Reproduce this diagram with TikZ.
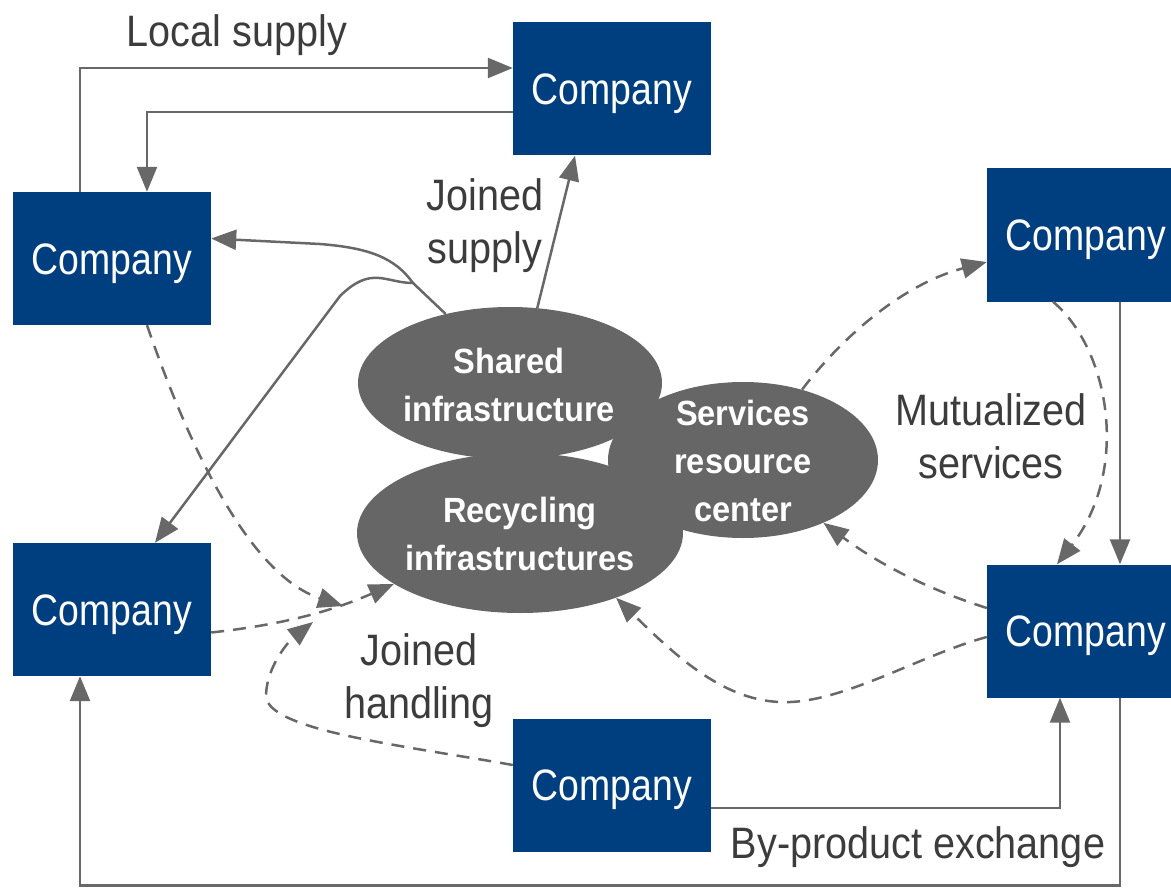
\documentclass[tikz,border=0pt]{standalone}
\usepackage{fontspec}
\setmainfont{Liberation Sans}[FakeStretch=0.9]
\newfontfamily\boxfont{Liberation Sans}[FakeStretch=0.85]
\newfontfamily\ellfont{Liberation Sans}[FakeStretch=0.93]
\usetikzlibrary{arrows.meta,shapes.geometric,calc}
\definecolor{cblue}{HTML}{003F7F}
\definecolor{cgray}{HTML}{666666}
\definecolor{lgray}{HTML}{686868}
\definecolor{tgray}{HTML}{3C3C3C}
\tikzset{
  company/.style={rectangle, fill=cblue, minimum width=198pt, minimum height=133pt, inner sep=0pt, text=white, text height=31pt, text depth=0pt, font=\boxfont\fontsize{44}{50}\selectfont},
  infra/.style={ellipse, fill=cgray, inner sep=0pt},
  itext/.style={text=white, align=center, inner sep=0pt, font=\ellfont\bfseries\fontsize{35}{48}\selectfont},
  conn/.style={draw=lgray, line width=2.5pt, -{Triangle[length=25pt,width=20pt]}},
  dconn/.style={conn, dash pattern=on 13pt off 9pt},
  lbl/.style={text=tgray, align=center, inner sep=0pt, font=\fontsize{44}{53}\selectfont},
}
\begin{document}
\begin{tikzpicture}[x=1pt,y=-1pt]
\useasboundingbox (0,0) rectangle (1171,888);
\clip (0,0) rectangle (1171,888);
% companies
\node[company] (top) at (612,89) {Company};
\node[company] (lu) at (112,258.5) {Company};
\node[company] (ll) at (112,609.5) {Company};
\node[company] (ru) at (1086,235) {Company};
\node[company] (rl) at (1086,631) {Company};
\node[company] (bot) at (612,785) {Company};
% infrastructure ellipses
\node[infra, minimum width=304pt, minimum height=152pt] (shared) at (510,383) {};
\node[infra, minimum width=326pt, minimum height=160pt] (recyc) at (520,533) {};
\node[infra, minimum width=270pt, minimum height=156pt] (serv) at (743,460) {};
\fill[white] (583,456) -- (607,448) -- (607,464) -- cycle;
\node[itext] (sharedtxt) at (509,385) {Shared\\infrastructure};
\node[itext] (recyctxt) at (520,534) {Recycling\\infrastructures};
\node[itext] (servtxt) at (743,461) {Services\\resource\\center};
% labels
\node[lbl, anchor=base] (lsup) at (237,47) {Local supply};
\node[lbl] (jsup) at (485,226) {Joined\\supply};
\node[lbl] (msrv) at (991,436) {Mutualized\\services};
\node[lbl] (jhan) at (419,681) {Joined\\handling};
\node[lbl, anchor=base] (bpx) at (918,858) {By-product exchange};
% helper coordinates
\coordinate (fork) at (413,283);
\coordinate (hjoin) at (343,606);
\coordinate (hend) at (313,622);
% solid connectors
\draw[conn] ([xshift=-32pt]lu.north) |- ([yshift=21pt]top.west);
\draw[conn] ([yshift=-23pt]top.west) -| ([xshift=35pt]lu.north);
\draw[conn] (shared.70) -- ([xshift=-37pt]top.south);
\draw[conn] (shared.133) -- (fork) .. controls (395,258) and (370,248) .. (320,244) -- ([yshift=20pt]lu.east);
\draw[conn] (fork) .. controls (385,283) and (372,265) .. (340,296) -- ([xshift=43pt]ll.north);
\draw[conn] ([xshift=34pt]ru.south) -- ([xshift=34pt]rl.north);
\draw[conn] ([yshift=-23pt]bot.east) -| ([xshift=-26pt]rl.south);
\draw[conn] ([xshift=34pt]rl.south) -- ++(0,188) -| ([xshift=-32pt]ll.south);
% dashed connectors
\draw[dconn] ([xshift=35pt]lu.south) .. controls (190,450) and (250,575) .. (hjoin);
\draw[dconn] ([yshift=-23pt]ll.east) .. controls (280,625) and (330,612) .. (recyc.202);
\draw[dconn] ([yshift=20pt]bot.west) .. controls (400,745) and (265,730) .. (266,695) .. controls (267,665) and (290,640) .. (hend);
\draw[dconn] (serv.50) .. controls (840,340) and (900,285) .. ([yshift=-27pt]ru.west);
\draw[dconn] ([xshift=-33pt]ru.south) .. controls (1110,350) and (1130,470) .. ([xshift=-29pt]rl.north);
\draw[dconn] ([yshift=23pt]rl.west) .. controls (930,590) and (880,565) .. (serv.-38);
\draw[dconn] ([yshift=-6pt]rl.west) .. controls (920,655) and (840,705) .. (780,702) .. controls (720,700) and (670,650) .. (recyc.-34);
\end{tikzpicture}
\end{document}
